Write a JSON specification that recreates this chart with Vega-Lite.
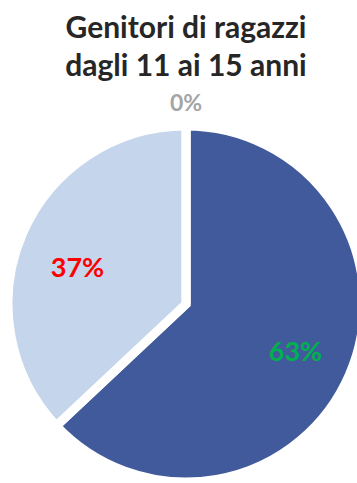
{
  "$schema": "https://vega.github.io/schema/vega-lite/v6.json",
  "width": 357,
  "height": 483,
  "autosize": {"type": "fit", "contains": "padding"},
  "padding": {"left": 15, "right": 0, "top": 46, "bottom": 0},
  "background": "white",
  "title": {
    "text": ["Genitori di ragazzi", "dagli 11 ai 15 anni"],
    "font": "Lato",
    "fontSize": 30,
    "fontWeight": "bold",
    "color": "#262626",
    "lineHeight": 38,
    "anchor": "middle",
    "offset": 11
  },
  "data": {
    "values": [
      {"categoria": "A", "valore": 63, "etichetta": "63%"},
      {"categoria": "B", "valore": 37, "etichetta": "37%"},
      {"categoria": "C", "valore": 0, "etichetta": "0%"}
    ]
  },
  "encoding": {
    "theta": {"field": "valore", "type": "quantitative", "stack": true},
    "order": {"field": "categoria", "type": "nominal"}
  },
  "layer": [
    {
      "mark": {"type": "arc", "radius": 178, "stroke": "white", "strokeWidth": 9, "strokeJoin": "miter"},
      "encoding": {
        "color": {
          "field": "categoria",
          "type": "nominal",
          "scale": {"domain": ["A", "B", "C"], "range": ["#415A9B", "#C5D6EC", "#A5A5A5"]},
          "legend": null
        }
      }
    },
    {
      "mark": {"type": "text", "radius": 120, "thetaOffset": 0.014, "font": "Lato", "fontSize": 27, "fontWeight": "bold", "color": "#00B050"},
      "encoding": {
        "detail": {"field": "categoria", "type": "nominal"},
        "text": {"condition": {"test": "datum.categoria === 'A'", "field": "etichetta"}, "value": ""}
      }
    },
    {
      "mark": {"type": "text", "radius": 114, "thetaOffset": -0.098, "font": "Lato", "fontSize": 27, "fontWeight": "bold", "color": "#FF0000"},
      "encoding": {
        "detail": {"field": "categoria", "type": "nominal"},
        "text": {"condition": {"test": "datum.categoria === 'B'", "field": "etichetta"}, "value": ""}
      }
    },
    {
      "mark": {"type": "text", "radius": 200, "font": "Lato", "fontSize": 23, "fontWeight": "bold", "color": "#A5A5A5"},
      "encoding": {
        "detail": {"field": "categoria", "type": "nominal"},
        "text": {"condition": {"test": "datum.categoria === 'C'", "field": "etichetta"}, "value": ""}
      }
    }
  ],
  "config": {"view": {"stroke": null}}
}
